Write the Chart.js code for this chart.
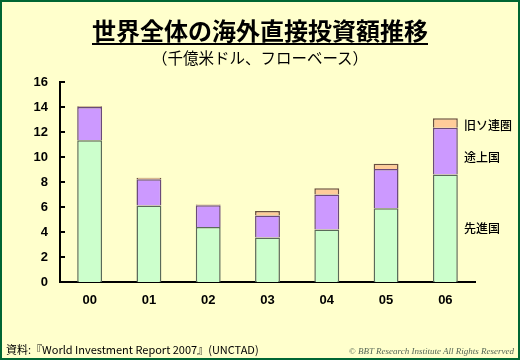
<!DOCTYPE html>
<html><head><meta charset="utf-8">
<script src="https://cdn.jsdelivr.net/npm/chart.js@4/dist/chart.umd.min.js"></script>
<style>
html,body{margin:0;padding:0;}
body{width:520px;height:360px;overflow:hidden;}
#wrap{position:relative;width:520px;height:360px;background:#FFFFCC;}
#frame{position:absolute;left:0;top:0;width:520px;height:360px;box-sizing:border-box;border:2px solid #006633;pointer-events:none;}
#c{position:absolute;left:0;top:0;}
.t{position:absolute;left:0;width:520px;text-align:center;font-family:"Noto Sans CJK JP",sans-serif;color:#000;white-space:nowrap;}
#title{top:15px;font-size:24px;font-weight:bold;text-decoration:underline;text-underline-offset:3px;text-decoration-thickness:2px;line-height:30px;}
#sub{top:47px;font-size:15.5px;line-height:20px;}
#src{position:absolute;left:6px;top:341px;font-family:"Noto Sans CJK JP",sans-serif;font-size:11px;line-height:16px;white-space:nowrap;}
#copy{position:absolute;right:6px;top:345px;font-family:"Liberation Serif",serif;font-style:italic;font-size:9px;color:#556655;line-height:12px;white-space:nowrap;}
</style></head>
<body><div id="wrap">
<canvas id="c" width="520" height="360"></canvas>
<div id="title" class="t">世界全体の海外直接投資額推移</div>
<div id="sub" class="t">（千億米ドル、フローベース）</div>
<div id="src">資料:『World Investment Report 2007』(UNCTAD)</div>
<div id="copy">© BBT Research Institute All Rights Reserved</div>
<div id="frame"></div>
</div>
<script>
const categories = ["00","01","02","03","04","05","06"];
const developed  = [11.35, 6.13, 4.4, 3.57, 4.2, 5.9, 8.6];
const developing = [2.65, 2.1, 1.75, 1.76, 2.8, 3.15, 3.75];
const formerSoviet = [0.06, 0.12, 0.06, 0.35, 0.5, 0.42, 0.75];
const seriesNames = ["先進国","途上国","旧ソ連圏"];
const yTicks = [0,2,4,6,8,10,12,14,16];

const FONT = '"Noto Sans CJK JP", sans-serif';
const NUMFONT = '"Liberation Sans", Arial, sans-serif';

const innerTicks = {
  id:'innerTicks',
  afterDraw(chart){
    const ctx = chart.ctx, y = chart.scales.y, a = chart.chartArea;
    ctx.save();
    ctx.strokeStyle = '#000'; ctx.lineWidth = 2;
    yTicks.forEach(v=>{
      const py = Math.round(y.getPixelForValue(v));
      if (v===0) return;
      ctx.beginPath(); ctx.moveTo(a.left, py); ctx.lineTo(a.left+5, py); ctx.stroke();
    });
    ctx.restore();
  }
};

const seriesLabels = {
  id:'seriesLabels',
  afterDatasetsDraw(chart){
    const ctx = chart.ctx;
    const last = categories.length-1;
    ctx.save();
    ctx.font = '500 12px ' + FONT;
    ctx.fillStyle = '#000';
    ctx.textBaseline = 'middle';
    const offs = [0, 6, 2];
    chart.data.datasets.forEach((ds,i)=>{
      const el = chart.getDatasetMeta(i).data[last];
      const cy = (el.y + el.base)/2 + offs[i];
      ctx.fillText(seriesNames[i], 464, cy);
    });
    ctx.restore();
  }
};

new Chart(document.getElementById('c'), {
  type:'bar',
  data:{
    labels: categories,
    datasets:[
      {label:seriesNames[0], data:developed, backgroundColor:'#CCFFCC', borderColor:'#5a6a5a', borderWidth:1.5},
      {label:seriesNames[1], data:developing, backgroundColor:'#CC99FF', borderColor:'#6a4a7a', borderWidth:1.5},
      {label:seriesNames[2], data:formerSoviet, backgroundColor:'#FFCC99', borderColor:'#6a5040', borderWidth:1.5}
    ]
  },
  options:{
    responsive:false, animation:false,
    layout:{padding:{left:0, right:45, top:82, bottom:0}},
    datasets:{bar:{barPercentage:0.42, categoryPercentage:1}},
    plugins:{legend:{display:false}, tooltip:{enabled:false}},
    scales:{
      x:{
        stacked:true,
        grid:{display:false, drawTicks:false},
        border:{display:true, color:'#000', width:2},
        ticks:{font:{family:NUMFONT, size:13, weight:'bold'}, color:'#000', padding:11},
        afterFit(s){ s.height = 78; }
      },
      y:{
        stacked:true, min:0, max:16,
        afterBuildTicks(s){ s.ticks = yTicks.map(v=>({value:v})); },
        grid:{display:false, drawTicks:false},
        border:{display:true, color:'#000', width:2},
        ticks:{font:{family:NUMFONT, size:13, weight:'bold'}, color:'#000', padding:12},
        afterFit(s){ s.width = 60; }
      }
    }
  },
  plugins:[innerTicks, seriesLabels]
});
</script>
</body></html>
